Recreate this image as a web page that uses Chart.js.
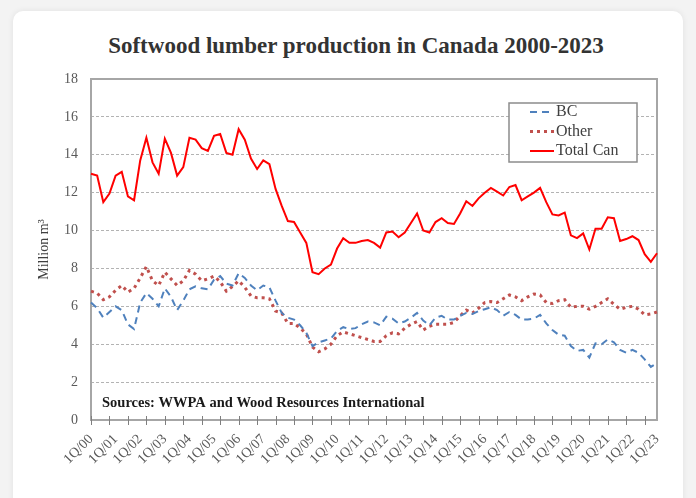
<!DOCTYPE html>
<html lang="en">
<head>
    <meta charset="UTF-8">
    <title>Softwood lumber production in Canada</title>
    <script src="https://cdn.jsdelivr.net/npm/chart.js"></script>
    <style>
        body { margin: 0; background: #f3f3f3; width: 696px; height: 498px; overflow: hidden; position: relative; font-family: "Liberation Serif", serif; }
        .card { position: absolute; left: 13px; top: 11px; width: 670px; height: 500px; background: #fff; border-radius: 10px; box-shadow: 0 0 6px rgba(0,0,0,0.08); }
        h1 { position: absolute; left: 0; width: 712px; top: 33px; margin: 0; text-align: center; font: bold 23px "Liberation Serif", serif; color: #333; }
        #chart { position: absolute; left: 0; top: 0; }
    </style>
</head>
<body>
    <div class="card"></div>
    <h1>Softwood lumber production in Canada 2000-2023</h1>
    <canvas id="chart" width="696" height="498"></canvas>

    <script>
        // tick labels, one per year (every 4th quarter)
        var tickLabels = ['1Q/00', '1Q/01', '1Q/02', '1Q/03', '1Q/04', '1Q/05', '1Q/06', '1Q/07', '1Q/08', '1Q/09', '1Q/10', '1Q/11',
            '1Q/12', '1Q/13', '1Q/14', '1Q/15', '1Q/16', '1Q/17', '1Q/18', '1Q/19', '1Q/20', '1Q/21', '1Q/22', '1Q/23']

        // quarterly categories 1Q/00 .. 1Q/23
        var quarters = []
        tickLabels.forEach(function (t, k) {
            var yy = t.slice(3)
            for (var q = 1; q <= 4; q++) {
                if (k == tickLabels.length - 1 && q > 1) break
                quarters.push(q + 'Q/' + yy)
            }
        })

        var bc = [6.2, 5.9, 5.4, 5.7, 6.0, 5.8, 5.05, 4.8, 6.2, 6.7, 6.4, 6.0,
            6.95, 6.5, 5.8, 6.3, 6.9, 7.05, 6.95, 6.9, 7.4, 7.6, 7.2, 7.1,
            7.75, 7.5, 7.1, 6.85, 7.1, 7.0, 6.3, 5.65, 5.4, 5.3, 5.0, 4.6,
            3.9, 4.1, 4.2, 4.3, 4.7, 4.9, 4.8, 4.85, 5.05, 5.2, 5.15, 5.0,
            5.45, 5.35, 5.1, 5.2, 5.4, 5.65, 5.25, 5.0, 5.4, 5.5, 5.3, 5.3,
            5.5, 5.65, 5.6, 5.75, 5.85, 5.95, 5.8, 5.5, 5.7, 5.55, 5.3, 5.3,
            5.35, 5.55, 5.1, 4.75, 4.5, 4.45, 3.9, 3.65, 3.7, 3.3, 4.05, 4.0,
            4.25, 4.1, 3.7, 3.55, 3.7, 3.55, 3.2, 2.8, 3.0]

        var other = [6.8, 6.7, 6.35, 6.5, 6.85, 7.1, 6.75, 6.95, 7.5, 8.1, 7.35, 7.1,
            7.8, 7.45, 7.1, 7.35, 7.9, 7.7, 7.35, 7.45, 7.6, 7.3, 6.8, 7.05,
            7.35, 7.0, 6.55, 6.45, 6.45, 6.4, 5.75, 5.65, 5.1, 5.1, 4.85, 4.55,
            3.85, 3.6, 3.75, 4.0, 4.45, 4.65, 4.55, 4.45, 4.35, 4.25, 4.15, 4.15,
            4.45, 4.6, 4.55, 4.85, 5.05, 5.2, 4.75, 4.95, 5.05, 5.05, 5.05, 5.15,
            5.5, 5.8, 5.65, 5.9, 6.2, 6.25, 6.2, 6.4, 6.6, 6.5, 6.3, 6.5,
            6.65, 6.6, 6.2, 6.15, 6.3, 6.35, 5.95, 6.0, 6.0, 5.85, 6.0, 6.2,
            6.4, 6.1, 5.85, 5.95, 6.0, 5.85, 5.55, 5.6, 5.7]

        var totalCan = [13.0, 12.9, 11.5, 11.95, 12.9, 13.1, 11.8, 11.6, 13.7, 14.9, 13.6, 13.0,
            14.85, 14.1, 12.9, 13.35, 14.9, 14.8, 14.35, 14.2, 15.0, 15.1, 14.1, 14.0,
            15.35, 14.8, 13.8, 13.25, 13.7, 13.5, 12.2, 11.3, 10.5, 10.45, 9.9, 9.35,
            7.8, 7.7, 8.0, 8.2, 9.05, 9.6, 9.35, 9.35, 9.45, 9.5, 9.35, 9.1,
            9.9, 9.95, 9.65, 9.9, 10.4, 10.9, 10.0, 9.9, 10.45, 10.65, 10.4, 10.35,
            10.9, 11.55, 11.3, 11.7, 12.0, 12.25, 12.05, 11.85, 12.3, 12.4, 11.6, 11.8,
            12.0, 12.25, 11.5, 10.85, 10.8, 10.95, 9.75, 9.6, 9.85, 9.0, 10.1, 10.1,
            10.7, 10.65, 9.45, 9.55, 9.7, 9.5, 8.75, 8.35, 8.8]

        var serif = 'Liberation Serif'

        // frame, tick marks, legend box and source note
        var extras = {
            id: 'extras',
            beforeDatasetsDraw: function (chart) {
                var ctx = chart.ctx, a = chart.chartArea, x = chart.scales.x
                ctx.save()
                ctx.strokeStyle = '#a6a6a6'
                ctx.lineWidth = 2
                ctx.strokeRect(a.left, a.top, a.right - a.left, a.bottom - a.top)
                ctx.lineWidth = 1
                ctx.strokeStyle = '#7f7f7f'
                for (var i = 0; i < quarters.length; i += 3) {
                    var px = Math.round(x.getPixelForValue(i)) + 0.5
                    ctx.beginPath()
                    ctx.moveTo(px, a.bottom - 4)
                    ctx.lineTo(px, a.bottom + 5)
                    ctx.stroke()
                }
                ctx.restore()
            },
            afterDraw: function (chart) {
                var ctx = chart.ctx, a = chart.chartArea
                ctx.save()
                // legend
                var lx = a.right - 148, ly = a.top + 24
                ctx.fillStyle = '#fff'
                ctx.fillRect(lx, ly, 128, 59)
                ctx.strokeStyle = '#8c8c8c'
                ctx.lineWidth = 1.5
                ctx.strokeRect(lx, ly, 128, 59)
                ctx.font = '16px ' + serif
                ctx.textBaseline = 'middle'
                chart.data.datasets.forEach(function (ds, k) {
                    var yy = ly + 9 + k * 19.5
                    ctx.beginPath()
                    ctx.strokeStyle = ds.borderColor
                    ctx.lineWidth = ds.borderWidth
                    ctx.lineCap = ds.borderCapStyle || 'butt'
                    ctx.setLineDash(ds.borderDash || [])
                    ctx.moveTo(lx + 21, yy)
                    ctx.lineTo(lx + 45, yy)
                    ctx.stroke()
                    ctx.setLineDash([])
                    ctx.fillStyle = '#404040'
                    ctx.fillText(ds.label, lx + 47, yy)
                })
                // source note
                ctx.font = 'bold 14.5px ' + serif
                ctx.fillStyle = '#1a1a1a'
                ctx.textBaseline = 'alphabetic'
                ctx.fillText('Sources: WWPA and Wood Resources International', a.left + 11, a.bottom - 13)
                ctx.restore()
            }
        }

        new Chart(document.getElementById('chart'), {
            type: 'line',
            data: {
                labels: quarters,
                datasets: [{
                    label: 'BC',
                    data: bc,
                    borderColor: '#4f81bd',
                    borderWidth: 2,
                    borderDash: [7, 5],
                    pointRadius: 0
                }, {
                    label: 'Other',
                    data: other,
                    borderColor: '#c0504d',
                    borderWidth: 3,
                    borderDash: [3, 4],
                    pointRadius: 0
                }, {
                    label: 'Total Can',
                    data: totalCan,
                    borderColor: '#ff0000',
                    borderWidth: 2,
                    pointRadius: 0
                }]
            },
            plugins: [extras],
            options: {
                responsive: false,
                animation: false,
                layout: { padding: { left: 30, right: 39, top: 79, bottom: 0 } },
                plugins: {
                    legend: { display: false },
                    tooltip: { enabled: false }
                },
                scales: {
                    x: {
                        offset: false,
                        grid: { display: false },
                        border: { display: false },
                        ticks: {
                            autoSkip: false,
                            minRotation: 45,
                            maxRotation: 45,
                            padding: 3,
                            color: '#595959',
                            font: { family: serif, size: 14 },
                            callback: function (v, i) { return i % 4 === 0 ? tickLabels[i / 4] : null }
                        },
                        afterFit: function (s) { s.height = 78 }
                    },
                    y: {
                        min: 0,
                        max: 18,
                        grid: { color: '#b3b3b3', drawTicks: false },
                        border: { display: false, dash: [3, 2] },
                        ticks: {
                            stepSize: 2,
                            padding: 13,
                            color: '#595959',
                            font: { family: serif, size: 14 }
                        },
                        title: {
                            display: true,
                            text: 'Million m³',
                            color: '#404040',
                            padding: 6,
                            font: { family: serif, size: 14 }
                        },
                        afterFit: function (s) { s.width = 61 }
                    }
                }
            }
        })
    </script>
</body>
</html>
